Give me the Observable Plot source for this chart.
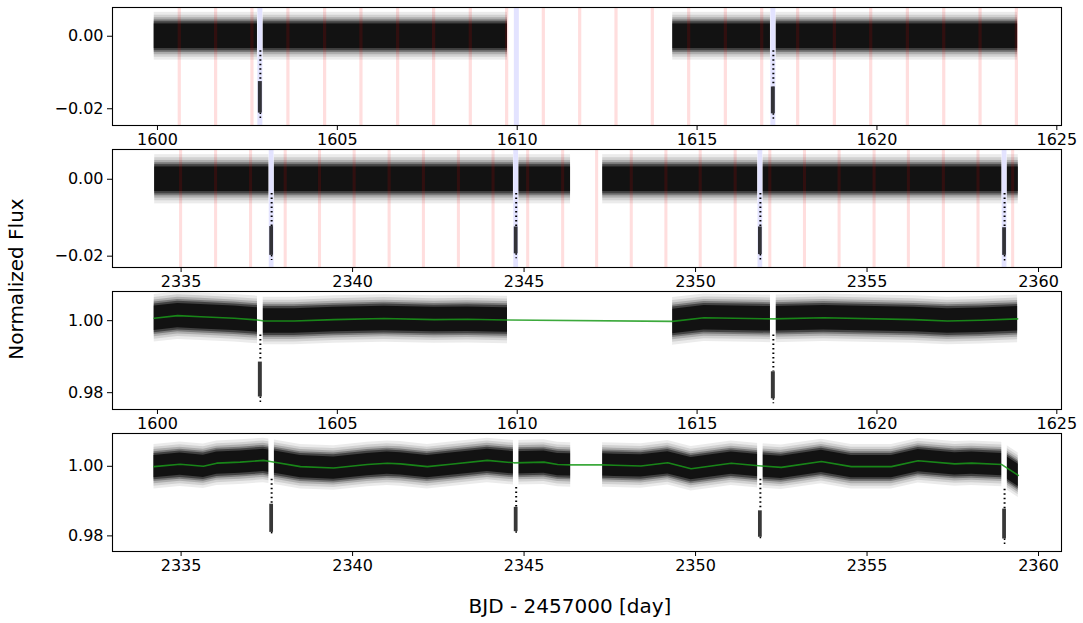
<!DOCTYPE html>
<html>
<head>
<meta charset="utf-8">
<script src="https://cdn.jsdelivr.net/npm/d3@7"></script>
<script src="https://cdn.jsdelivr.net/npm/@observablehq/plot@0.6"></script>
<style>
  body { margin: 0; background: #fff; }
  #fig { position: relative; width: 1083px; height: 623px; font-family: "DejaVu Sans", sans-serif; overflow: hidden; }
  #fig svg { position: absolute; left: 0; background: transparent; }
  .xlab { position: absolute; left: 570px; top: 596px; transform: translateX(-50%); font-size: 20px; line-height: 20px; white-space: nowrap; color: #000; }
  .ylab { position: absolute; left: 16px; top: 279px; transform: translate(-50%, -50%) rotate(-90deg); font-size: 20px; line-height: 20px; white-space: nowrap; color: #000; }
</style>
</head>
<body>
<div id="fig">
  <div class="ylab">Normalized Flux</div>
  <div class="xlab">BJD - 2457000 [day]</div>
</div>
<script>
// ---------------- DATA ----------------
// Season A (panels 1 & 3), BJD - 2457000
const segmentsA = [[1599.91, 1609.73], [1614.32, 1623.91]];
const transitsA = [1602.86, 1617.12];              // observed transits (in data)
const blueSpansA = [1602.86, 1609.99, 1617.12];    // predicted transit epochs (blue spans)
const redSpansA = [1600.62, 1601.63, 1602.64, 1603.64, 1604.66, 1605.67, 1606.69, 1607.69,
  1608.71, 1609.72, 1610.74, 1611.75, 1612.76, 1613.77, 1614.78, 1615.80, 1616.81, 1617.81,
  1618.83, 1619.84, 1620.86, 1621.87, 1622.88, 1623.89];

// Season B (panels 2 & 4)
const segmentsB = [[2334.23, 2346.36], [2347.29, 2359.41]];
const transitsB = [2337.64, 2344.77, 2351.89, 2359.01];
const blueSpansB = [2337.64, 2344.77, 2351.89, 2359.01];
const redSpansB = [2335.00, 2336.02, 2337.04, 2338.05, 2339.05, 2340.06, 2341.08, 2342.08,
  2343.10, 2344.11, 2345.12, 2346.14, 2347.13, 2348.14, 2349.15, 2350.15, 2351.17, 2352.18,
  2353.19, 2354.20, 2355.22, 2356.22, 2357.24, 2358.25, 2359.26];

// Scatter envelope half-widths of the out-of-transit flux, from sparse outliers to the dense core
const noiseA = [0.0066, 0.0058, 0.0051, 0.0045, 0.0040, 0.0034];
const noiseB = [0.0064, 0.0056, 0.0049, 0.0043, 0.0038, 0.0032];

// In-transit flux ranges: sparse ingress top, dense top, dense bottom, lowest points
const p1SparseTop = [-0.0040, -0.0040];
const p1DenseTop  = [-0.0125, -0.0140];
const p1DenseBot  = [-0.0212, -0.0214];
const p1Tail      = [-0.0228, -0.0232];

const p2SparseTop = [-0.0037, -0.0037, -0.0037, -0.0037];
const p2DenseTop  = [-0.0123, -0.0124, -0.0124, -0.0126];
const p2DenseBot  = [-0.0198, -0.0194, -0.0196, -0.0198];
const p2Tail      = [-0.0211, -0.0207, -0.0216, -0.0216];

const p3SparseTop = [0.9960, 0.9960];
const p3DenseTop  = [0.9885, 0.9858];
const p3DenseBot  = [0.9788, 0.9783];
const p3Tail      = [0.9769, 0.9769];

const p4SparseTop = [0.9963, 0.9939, 0.9963, 0.9934];
const p4DenseTop  = [0.9891, 0.9882, 0.9872, 0.9877];
const p4DenseBot  = [0.9810, 0.9812, 0.9796, 0.9791];
const p4Tail      = [0.9801, 0.9801, 0.9787, 0.9772];

// Trend model (green) for the raw light curves
const trendAT = [1599.91, 1600.56, 1601.20, 1602.13, 1602.78, 1602.96, 1603.80, 1604.91, 1606.30,
  1607.69, 1608.62, 1609.68, 1614.32, 1615.19, 1617.13, 1618.52, 1621.02, 1621.96, 1622.89, 1623.91];
const trendAF = [1.00066, 1.0014, 1.0011, 1.00066, 1.0002, 0.9999, 0.9999, 1.0003, 1.0006,
  1.0003, 1.0004, 1.0002, 0.9998, 1.0008, 1.0005, 1.0008, 1.0003, 0.9999, 1.0001, 1.0005];

const trendBT = [2334.21, 2334.97, 2335.65, 2336.04, 2336.72, 2337.40, 2337.60, 2338.48, 2339.45,
  2340.43, 2341.01, 2341.40, 2342.18, 2342.86, 2343.93, 2344.71, 2345.58, 2345.98, 2346.36, 2347.30,
  2347.63, 2348.41, 2349.19, 2349.87, 2351.04, 2351.92, 2352.50, 2353.67, 2354.54, 2355.71, 2356.49,
  2357.56, 2358.05, 2358.93, 2359.41];
const trendBF = [0.9999, 1.0006, 1.0000, 1.0009, 1.0012, 1.0017, 1.0014, 0.9999, 0.9995,
  1.0005, 1.0009, 1.0007, 0.9999, 1.0006, 1.0017, 1.0010, 1.0012, 1.0005, 1.0004, 1.0004,
  1.0003, 1.0001, 1.0010, 0.9993, 1.0009, 1.0001, 0.9997, 1.0014, 0.9999, 0.9999, 1.0016,
  1.0007, 1.0009, 1.0005, 0.9974];

// Axis ticks
const xTicksA = [1600, 1605, 1610, 1615, 1620, 1625];
const xTicksB = [2335, 2340, 2345, 2350, 2355, 2360];
const yTicksDetrended = [0.00, -0.02];
const yTicksRaw = [1.00, 0.98];

// Durations (days)
const transitWindow = 0.16;  // gap in out-of-transit points around each transit
const blueSpanWidth = 0.14;
const redSpanWidth = 0.09;
const transitCoreWidth = 0.11;

// ---------------- RENDERING ----------------
const W = 1083, ML = 112, MR = 22, MT = 8, FH = 118, MB = 32;
const panelTops = [7.3, 149.1, 290.8, 432.5];
// per-layer opacities: cumulative density 0.08, 0.18, 0.32, 0.52, 0.74, 0.93
const layerOpacity = [0.08, 0.109, 0.171, 0.294, 0.458, 0.731];
const fmt2 = d3.format(".2f");
const TICK_FONT = 16;

function makePanel(cfg) {
  const marks = [];
  // out-of-transit scatter envelope
  if (cfg.trendT) {
    const trend = cfg.trendT.map((t, i) => ({t, f: cfg.trendF[i]}));
    cfg.noise.forEach((h, k) => marks.push(Plot.areaY(trend, {
      x: "t", y1: d => d.f - h, y2: d => d.f + h, fill: "black", fillOpacity: layerOpacity[k], curve: "linear"
    })));
  } else {
    cfg.noise.forEach((h, k) => marks.push(Plot.rect(cfg.segments, {
      x1: d => d[0], x2: d => d[1], y1: () => -h, y2: () => h, fill: "black", fillOpacity: layerOpacity[k]
    })));
  }
  // data gaps (between segments, and in-transit windows)
  const gaps = [];
  for (let i = 0; i < cfg.segments.length - 1; i++) gaps.push([cfg.segments[i][1], cfg.segments[i + 1][0]]);
  cfg.transits.forEach(t => gaps.push([t - transitWindow / 2, t + transitWindow / 2]));
  marks.push(Plot.rect(gaps, {x1: d => d[0], x2: d => d[1], fill: "white"}));
  // spans
  if (cfg.red) marks.push(Plot.rect(cfg.red, {x1: d => d - redSpanWidth / 2, x2: d => d + redSpanWidth / 2, fill: "#ff0000", fillOpacity: 0.13}));
  if (cfg.blue) marks.push(Plot.rect(cfg.blue, {x1: d => d - blueSpanWidth / 2, x2: d => d + blueSpanWidth / 2, fill: "#0000ff", fillOpacity: 0.11}));
  // in-transit points
  const tr = cfg.transits.map((t, i) => ({t, a: cfg.sparseTop[i], b: cfg.denseTop[i], c: cfg.denseBot[i], d: cfg.tail[i]}));
  marks.push(Plot.ruleX(tr, {x: "t", y1: "a", y2: "b", stroke: "black", strokeWidth: 2, strokeDasharray: "1.5,3"}));
  marks.push(Plot.rect(tr, {x1: d => d.t - transitCoreWidth / 2, x2: d => d.t + transitCoreWidth / 2, y1: "b", y2: "c", fill: "black", fillOpacity: 0.78}));
  marks.push(Plot.ruleX(tr, {x: "t", y1: "c", y2: "d", stroke: "black", strokeWidth: 1.6, strokeDasharray: "1.5,2.5"}));
  // trend
  if (cfg.trendT) {
    const trend = cfg.trendT.map((t, i) => ({t, f: cfg.trendF[i]}));
    marks.push(Plot.line(trend, {x: "t", y: "f", stroke: "#1a9a1a", strokeOpacity: 0.85, strokeWidth: 1.6}));
  }
  marks.push(Plot.axisX({ticks: cfg.xTicks, tickFormat: d => String(d), tickSize: 5, tickPadding: 3, fontSize: TICK_FONT, label: null, stroke: "black"}));
  marks.push(Plot.axisY({ticks: cfg.yTicks, tickFormat: fmt2, tickSize: 5, tickPadding: 4, fontSize: TICK_FONT, label: null, stroke: "black"}));
  marks.push(Plot.frame({stroke: "black", strokeWidth: 1.1}));

  const svg = Plot.plot({
    width: W, height: MT + FH + MB,
    marginLeft: ML, marginRight: MR, marginTop: MT, marginBottom: MB,
    x: {type: "linear", domain: cfg.xDomain},
    y: {type: "linear", domain: cfg.yDomain},
    style: {fontFamily: "DejaVu Sans, sans-serif", fontSize: TICK_FONT + "px", background: "transparent", color: "black", overflow: "visible"},
    marks
  });
  svg.style.top = (cfg.top - MT) + "px";
  return svg;
}

const fig = document.getElementById("fig");
const panels = [
  {top: panelTops[0], xDomain: [1598.75, 1625.13], yDomain: [-0.02462, 0.00793], xTicks: xTicksA, yTicks: yTicksDetrended,
   segments: segmentsA, transits: transitsA, blue: blueSpansA, red: redSpansA, noise: noiseA,
   sparseTop: p1SparseTop, denseTop: p1DenseTop, denseBot: p1DenseBot, tail: p1Tail},
  {top: panelTops[1], xDomain: [2333.0, 2360.67], yDomain: [-0.02295, 0.00774], xTicks: xTicksB, yTicks: yTicksDetrended,
   segments: segmentsB, transits: transitsB, blue: blueSpansB, red: redSpansB, noise: noiseB,
   sparseTop: p2SparseTop, denseTop: p2DenseTop, denseBot: p2DenseBot, tail: p2Tail},
  {top: panelTops[2], xDomain: [1598.75, 1625.13], yDomain: [0.97533, 1.0081], xTicks: xTicksA, yTicks: yTicksRaw,
   segments: segmentsA, transits: transitsA, noise: noiseA, trendT: trendAT, trendF: trendAF,
   sparseTop: p3SparseTop, denseTop: p3DenseTop, denseBot: p3DenseBot, tail: p3Tail},
  {top: panelTops[3], xDomain: [2333.0, 2360.67], yDomain: [0.97551, 1.00943], xTicks: xTicksB, yTicks: yTicksRaw,
   segments: segmentsB, transits: transitsB, noise: noiseB, trendT: trendBT, trendF: trendBF,
   sparseTop: p4SparseTop, denseTop: p4DenseTop, denseBot: p4DenseBot, tail: p4Tail}
];
panels.forEach(cfg => fig.appendChild(makePanel(cfg)));
</script>
</body>
</html>
